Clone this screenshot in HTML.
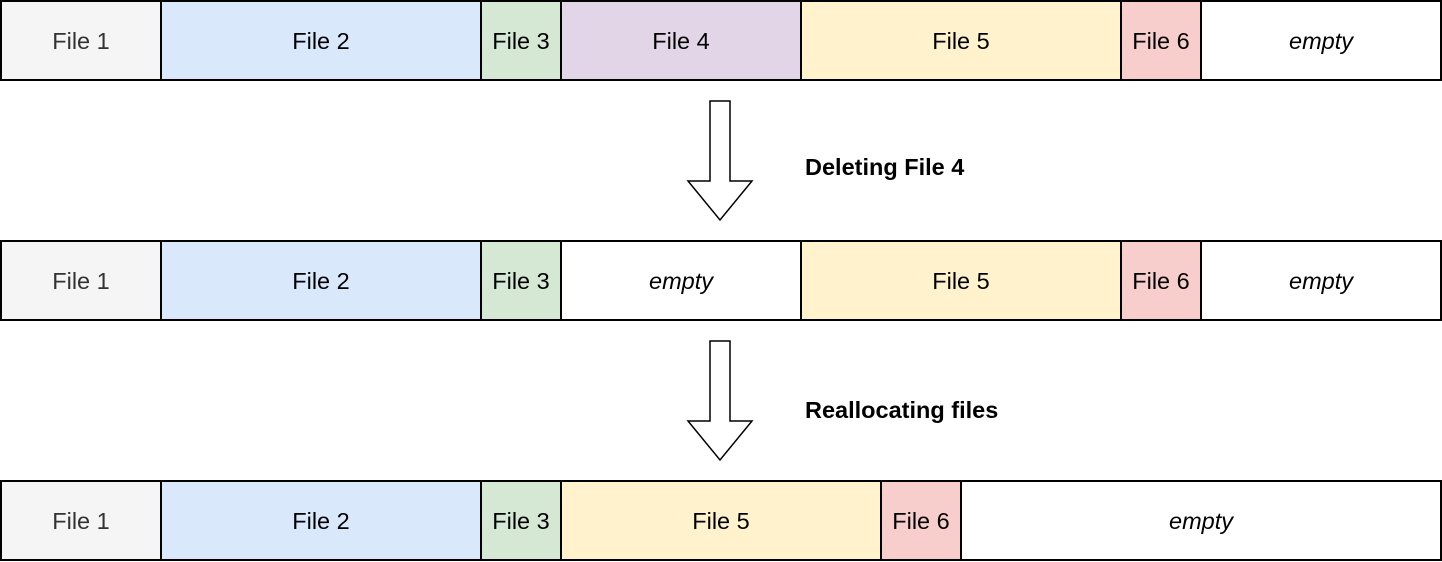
<!DOCTYPE html>
<html><head><meta charset="utf-8"><style>
html,body{margin:0;padding:0;background:#fff;}
svg{display:block;}
text{font-family:"Liberation Sans",Helvetica,Arial,sans-serif;font-size:23.5px;}
</style></head><body>
<svg width="1442" height="562" viewBox="0 0 1442 562" xmlns="http://www.w3.org/2000/svg">
<g stroke="#000" stroke-width="2">
<rect x="1" y="1" width="160" height="79" fill="#f5f5f5"/>
<rect x="161" y="1" width="320" height="79" fill="#dae8fc"/>
<rect x="481" y="1" width="80" height="79" fill="#d5e8d4"/>
<rect x="561" y="1" width="240" height="79" fill="#e1d5e7"/>
<rect x="801" y="1" width="320" height="79" fill="#fff2cc"/>
<rect x="1121" y="1" width="80" height="79" fill="#f8cecc"/>
<rect x="1201" y="1" width="240" height="79" fill="#fff"/>
<rect x="1" y="241" width="160" height="79" fill="#f5f5f5"/>
<rect x="161" y="241" width="320" height="79" fill="#dae8fc"/>
<rect x="481" y="241" width="80" height="79" fill="#d5e8d4"/>
<rect x="561" y="241" width="240" height="79" fill="#fff"/>
<rect x="801" y="241" width="320" height="79" fill="#fff2cc"/>
<rect x="1121" y="241" width="80" height="79" fill="#f8cecc"/>
<rect x="1201" y="241" width="240" height="79" fill="#fff"/>
<rect x="1" y="481" width="160" height="79" fill="#f5f5f5"/>
<rect x="161" y="481" width="320" height="79" fill="#dae8fc"/>
<rect x="481" y="481" width="80" height="79" fill="#d5e8d4"/>
<rect x="561" y="481" width="320" height="79" fill="#fff2cc"/>
<rect x="881" y="481" width="80" height="79" fill="#f8cecc"/>
<rect x="961" y="481" width="480" height="79" fill="#fff"/>
</g>
<g fill="#fff" stroke="#000" stroke-width="1.5">
<polygon points="710,101 730,101 730,181 752,181 720,220 688,181 710,181"/>
<polygon points="710,341 730,341 730,421 752,421 720,460 688,421 710,421"/>
</g>
<g text-anchor="middle">
<text x="81" y="49" fill="#333">File 1</text>
<text x="321" y="49">File 2</text>
<text x="521" y="49">File 3</text>
<text x="681" y="49">File 4</text>
<text x="961" y="49">File 5</text>
<text x="1161" y="49">File 6</text>
<text x="1321" y="49" font-style="italic">empty</text>
<text x="81" y="289" fill="#333">File 1</text>
<text x="321" y="289">File 2</text>
<text x="521" y="289">File 3</text>
<text x="681" y="289" font-style="italic">empty</text>
<text x="961" y="289">File 5</text>
<text x="1161" y="289">File 6</text>
<text x="1321" y="289" font-style="italic">empty</text>
<text x="81" y="529" fill="#333">File 1</text>
<text x="321" y="529">File 2</text>
<text x="521" y="529">File 3</text>
<text x="721" y="529">File 5</text>
<text x="921" y="529">File 6</text>
<text x="1201" y="529" font-style="italic">empty</text>
</g>
<text x="805" y="175" font-weight="bold">Deleting File 4</text>
<text x="805" y="418" font-weight="bold">Reallocating files</text>
</svg>
</body></html>
